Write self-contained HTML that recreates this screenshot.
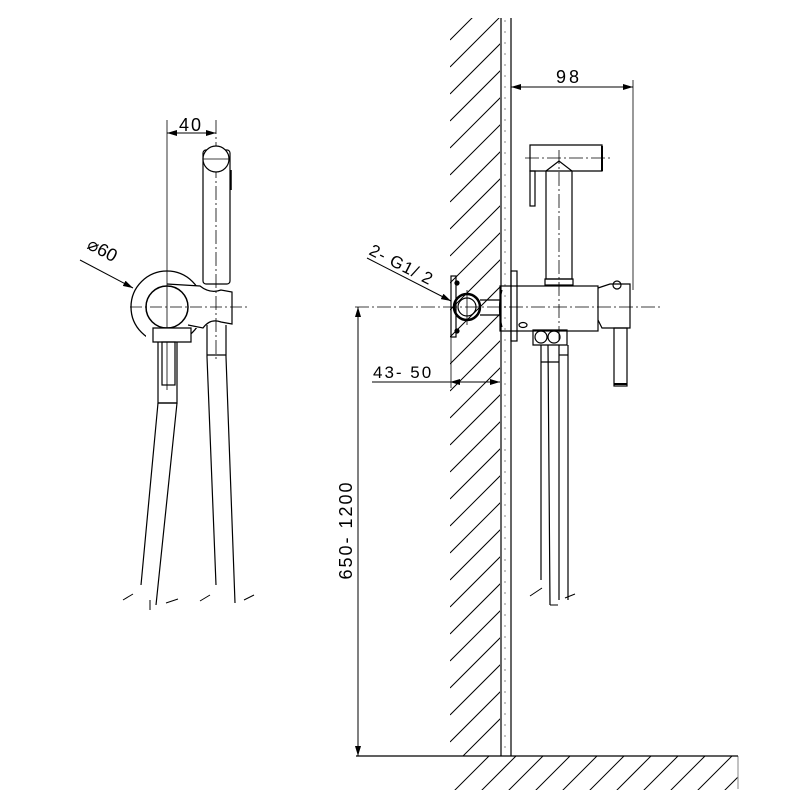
<!DOCTYPE html>
<html><head><meta charset="utf-8"><style>html,body{margin:0;padding:0;background:#fff}svg{display:block}</style></head>
<body>
<svg width="800" height="800" viewBox="0 0 800 800" xmlns="http://www.w3.org/2000/svg" font-family="Liberation Sans, sans-serif">
<defs>
<marker id="a" viewBox="0 0 10 6" refX="10" refY="3" markerWidth="10" markerHeight="6" orient="auto-start-reverse" markerUnits="userSpaceOnUse"><path d="M0,0 L10,3 L0,6 Z" fill="#000"/></marker>
<clipPath id="wall"><rect x="450" y="18" width="50" height="738"/></clipPath>
<clipPath id="floor"><rect x="450" y="756" width="288" height="34"/></clipPath>
</defs>
<g stroke="#000" fill="none" stroke-width="1.2">
<g clip-path="url(#wall)" stroke-width="1">
<path d="M450,40 l60,-60 M450,67 l60,-60 M450,94 l60,-60 M450,121 l60,-60 M450,148 l60,-60 M450,175 l60,-60 M450,202 l60,-60 M450,229 l60,-60 M450,256 l60,-60 M450,283 l60,-60 M450,310 l60,-60 M450,337 l60,-60 M450,364 l60,-60 M450,391 l60,-60 M450,418 l60,-60 M450,445 l60,-60 M450,472 l60,-60 M450,499 l60,-60 M450,526 l60,-60 M450,553 l60,-60 M450,580 l60,-60 M450,607 l60,-60 M450,634 l60,-60 M450,661 l60,-60 M450,688 l60,-60 M450,715 l60,-60 M450,742 l60,-60 M450,769 l60,-60"/>
</g>
<g clip-path="url(#floor)" stroke-width="1">
<path d="M445,800 l50,-50 M472,800 l50,-50 M499,800 l50,-50 M526,800 l50,-50 M553,800 l50,-50 M580,800 l50,-50 M607,800 l50,-50 M634,800 l50,-50 M661,800 l50,-50 M688,800 l50,-50 M715,800 l50,-50 M742,800 l50,-50"/>
</g>
<line x1="738" y1="756" x2="738" y2="789" stroke="#999"/>
<line x1="501" y1="18" x2="501" y2="756"/>
<line x1="511" y1="18" x2="511" y2="756"/>
<line x1="356" y1="756" x2="738" y2="756"/>
<line x1="505" y1="20" x2="505" y2="754" stroke="#888" stroke-dasharray="2 9" stroke-width="1"/>

<!-- LEFT VIEW -->
<circle cx="167" cy="307" r="36" stroke-width="1.3"/>
<path d="M167,284 L200,286 Q210,294 221,290 L232,292 L232,324 L221,322 Q210,318 203,328 L188,328 L188,345 L146,345 L146,328 L160,328 Z" fill="#fff" stroke="none"/>
<path d="M167,284 L200,286 Q210,294 221,290 L232,292 L232,324 L221,322 Q210,318 203,328 L188,325"/>
<circle cx="167" cy="307" r="21" stroke-width="1.5" fill="#fff"/>
<line x1="130" y1="307" x2="248" y2="307" stroke-dasharray="12 3 2 3" stroke-width="0.8"/>
<line x1="167" y1="120" x2="167" y2="390" stroke-width="0.8"/>
<line x1="216" y1="120" x2="216" y2="360" stroke-width="0.8" stroke-dasharray="14 3 2 3"/>
<line x1="167" y1="133" x2="216" y2="133" marker-start="url(#a)" marker-end="url(#a)" stroke-width="1"/>
<text x="191" y="131" font-size="18" text-anchor="middle" fill="#000" stroke="none" letter-spacing="2">40</text>
<rect x="203" y="150" width="27" height="134" rx="3"/>
<circle cx="216" cy="159" r="13" fill="#fff"/>
<line x1="203" y1="159" x2="230" y2="159" stroke-width="0.8"/>
<line x1="231" y1="170" x2="231" y2="190" stroke-width="1.5"/>
<path d="M153,328 h38 v14 h-38 z" fill="#fff"/>
<path d="M158,342 v61 h19 v-61"/>
<rect x="162" y="342" width="13" height="43"/>
<line x1="158" y1="403" x2="177" y2="403"/>
<path d="M158,403 L141,585 M177,403 L156,605"/>
<path d="M207,325 L207,357 L216,585 M226,325 L226,357 L235,603"/>
<line x1="207" y1="355" x2="226" y2="355"/>
<path d="M123,600 l10,-6 M166,603 l12,-4 M200,601 l10,-6 M244,600 l10,-5 M150,600 v10" stroke-width="1"/>
<line x1="80" y1="260" x2="133" y2="288" marker-end="url(#a)" stroke-width="1"/>
<text x="86" y="248" font-size="18" fill="#000" stroke="none" transform="rotate(28 86 248)">⌀60</text>

<!-- RIGHT VIEW -->
<line x1="511" y1="87" x2="633" y2="87" marker-start="url(#a)" marker-end="url(#a)" stroke-width="1"/>
<line x1="633" y1="80" x2="633" y2="290" stroke-width="0.8"/>
<text x="569" y="83" font-size="18" text-anchor="middle" fill="#000" stroke="none" letter-spacing="3">98</text>
<line x1="355" y1="307" x2="660" y2="307" stroke-dasharray="14 3 2 3" stroke-width="0.8"/>
<path d="M530,145 h72 v26 h-72 z"/>
<line x1="602" y1="146" x2="602" y2="171" stroke-width="2"/>
<line x1="525" y1="158" x2="610" y2="158" stroke-dasharray="14 3 2 3" stroke-width="0.8"/>
<rect x="530" y="171" width="5" height="35"/>
<path d="M546,171 L559,161 L572,171 L572,279 L546,279 Z"/>
<rect x="545" y="279" width="28" height="6"/>
<line x1="559" y1="150" x2="559" y2="340" stroke-dasharray="14 3 2 3" stroke-width="0.8"/>
<rect x="500" y="286" width="98" height="45"/>
<path d="M502,290 Q497,308 502,327"/>
<rect x="511" y="271" width="6" height="70"/>
<path d="M598,288 L610,284 L630,284 L630,328 L602,328 L598,320"/>
<circle cx="617" cy="285" r="4"/>
<rect x="614" y="328" width="13" height="58"/>
<line x1="614" y1="384" x2="627" y2="384" stroke-width="2"/>
<ellipse cx="523" cy="325" rx="4" ry="2.5"/>
<path d="M533,330 h34 v15 h-34 z"/>
<circle cx="541" cy="337" r="6"/><circle cx="554" cy="337" r="6"/>
<path d="M541,345 L541,580 M559,345 L559,600 M548,345 L550,605 M568,345 L568,600"/>
<line x1="541" y1="362" x2="559" y2="362"/>
<line x1="559" y1="355" x2="568" y2="355"/>
<path d="M530,596 l12,-8 M575,594 l-10,4 M550,605 h8" stroke-width="1"/>
<circle cx="467" cy="307" r="13" stroke-width="2.5"/>
<circle cx="467" cy="307" r="9"/>
<rect x="451" y="276" width="5" height="61"/>
<path d="M480,300 h20 M480,315 h20"/>
<line x1="467" y1="290" x2="467" y2="325" stroke-width="0.8"/>
<circle cx="457" cy="283" r="2" fill="#000"/><circle cx="457" cy="331" r="2" fill="#000"/>
<line x1="367" y1="258" x2="451" y2="301" marker-end="url(#a)" stroke-width="1"/>
<text x="368" y="254" font-size="17" fill="#000" stroke="none" transform="rotate(27 368 254)" letter-spacing="1">2- G1/ 2</text>
<line x1="372" y1="382" x2="500" y2="382" stroke-width="1"/>
<path d="M450,382 l10,-3 v6 z M500,382 l-10,-3 v6 z" fill="#000" stroke="none"/>
<line x1="451" y1="337" x2="451" y2="388" stroke-width="0.8"/>
<text x="373" y="378" font-size="17" fill="#000" stroke="none" letter-spacing="2">43- 50</text>
<line x1="358" y1="307" x2="358" y2="756" marker-start="url(#a)" marker-end="url(#a)" stroke-width="1"/>
<text x="352" y="530" font-size="18" fill="#000" stroke="none" text-anchor="middle" transform="rotate(-90 352 530)" letter-spacing="2">650- 1200</text>
</g>
</svg>
</body></html>
